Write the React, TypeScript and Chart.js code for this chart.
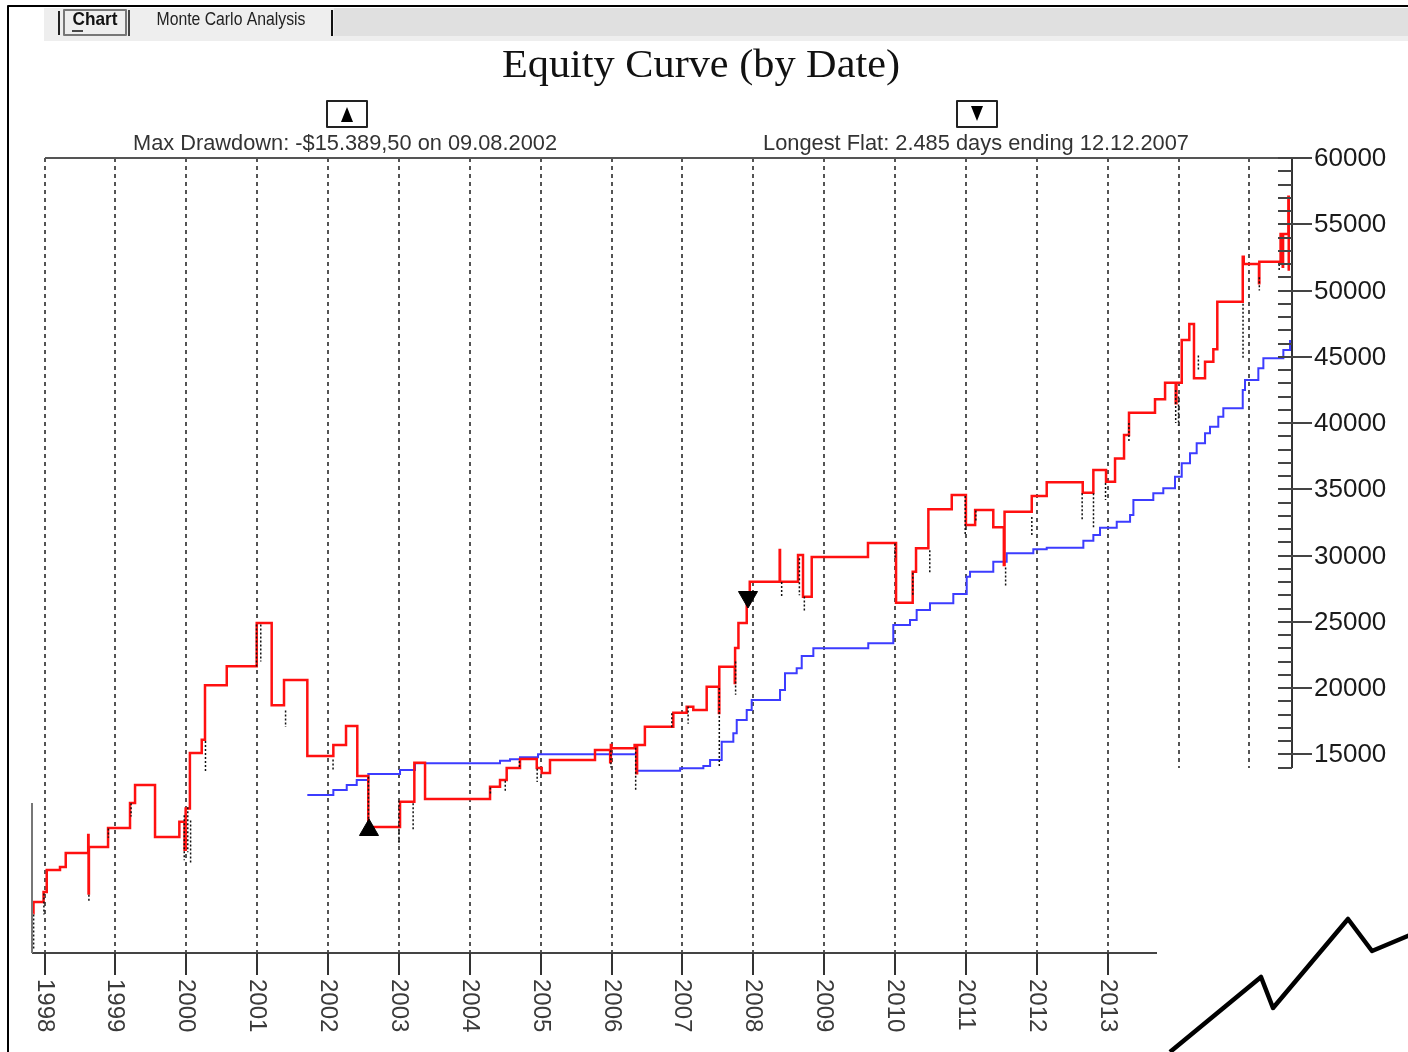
import React, { useEffect, useRef } from 'react';
import { Chart, registerables } from 'chart.js';

Chart.register(...registerables);

// ---------- data ----------
const gridYears = [1998, 1999, 2000, 2001, 2002, 2003, 2004, 2005, 2006, 2007, 2008, 2009, 2010, 2011, 2012, 2013, 2014, 2015];
const yearLabels = ['1998', '1999', '2000', '2001', '2002', '2003', '2004', '2005', '2006', '2007', '2008', '2009', '2010', '2011', '2012', '2013'];
const yTickValues = [60000, 55000, 50000, 45000, 40000, 35000, 30000, 25000, 20000, 15000];

// closed-trade equity (red), each point = new level from that date on
const redDates = [
  1997.84, 1997.843, 1997.985, 1998.03, 1998.217, 1998.298, 1998.615, 1998.62, 1998.625, 1998.895,
  1999.205, 1999.276, 1999.558, 1999.901, 1999.975, 1999.99, 2000.05, 2000.217, 2000.263, 2000.57,
  2000.993, 2001.204, 2001.378, 2001.707, 2002.074, 2002.253, 2002.412, 2002.567, 2003.015, 2003.217,
  2003.368, 2004.285, 2004.426, 2004.52, 2004.708, 2004.944, 2005.014, 2005.131, 2005.766, 2005.98,
  2005.99, 2006.0, 2006.325, 2006.35, 2006.36, 2006.47, 2006.871, 2007.06, 2007.153, 2007.342,
  2007.515, 2007.52, 2007.738, 2007.743, 2007.79, 2007.907, 2007.95, 2008.372, 2008.377, 2008.631,
  2008.701, 2008.824, 2009.618, 2010.014, 2010.249, 2010.296, 2010.47, 2010.8, 2011.0, 2011.13,
  2011.386, 2011.535, 2011.545, 2011.929, 2012.14, 2012.648, 2012.798, 2012.977, 2013.104, 2013.231,
  2013.301, 2013.668, 2013.81, 2013.96, 2013.97, 2014.045, 2014.152, 2014.218, 2014.374, 2014.491,
  2014.547, 2014.906, 2014.92, 2015.135, 2015.14, 2015.44, 2015.47, 2015.475, 2015.55, 2015.555,
];
const redValues = [
  3000, 3850, 4600, 6260, 6500, 7550, 8900, 4500, 8000, 9430,
  11320, 12680, 8750, 9900, 7800, 10900, 15100, 16100, 20200, 21650,
  24900, 18700, 20600, 14870, 15700, 17130, 13360, 9510, 11420, 14360,
  11620, 12550, 13060, 13960, 14640, 13960, 13590, 14570, 15320, 14400,
  15700, 15450, 15700, 13560, 15700, 17080, 18130, 18590, 18340, 20100,
  18110, 21600, 20380, 23020, 24900, 26420, 28020, 30410, 28020, 30040,
  26890, 29890, 30940, 26440, 28780, 30540, 33490, 34570, 32300, 33430,
  32130, 29280, 33300, 34490, 35520, 34740, 36450, 35570, 37330, 39090,
  40780, 41790, 43040, 41500, 43040, 46260, 47470, 43370, 44630, 45560,
  49150, 52550, 52000, 50540, 52170, 54260, 51800, 54260, 57080, 51500,
];

// comparison curve (blue)
const blueDates = [
  2001.707, 2002.074, 2002.263, 2002.404, 2002.567, 2003.015, 2003.226, 2004.426, 2004.567, 2004.708,
  2004.962, 2006.355, 2006.967, 2007.295, 2007.39, 2007.554, 2007.718, 2007.766, 2007.907, 2007.977,
  2008.377, 2008.447, 2008.612, 2008.683, 2008.847, 2009.622, 2009.975, 2010.211, 2010.305, 2010.493,
  2010.822, 2011.011, 2011.058, 2011.386, 2011.575, 2011.951, 2012.14, 2012.657, 2012.798, 2012.892,
  2013.128, 2013.316, 2013.363, 2013.644, 2013.785, 2013.95, 2014.045, 2014.162, 2014.256, 2014.374,
  2014.444, 2014.561, 2014.632, 2014.906, 2014.938, 2015.126, 2015.197, 2015.479, 2015.573,
];
const blueValues = [
  11920, 12300, 12680, 13060, 13510, 13810, 14320, 14510, 14620, 14770,
  15000, 13760, 13940, 14110, 14570, 15950, 16580, 17590, 18340, 19090,
  19850, 21110, 21490, 22420, 23000, 23370, 24750, 25130, 25890, 26390,
  27090, 28400, 28780, 29530, 30170, 30470, 30590, 31120, 31550, 32100,
  32550, 33060, 34190, 34690, 35070, 35950, 36960, 37710, 38470, 39220,
  39720, 40470, 41110, 42490, 43240, 44130, 44880, 45510, 46260,
];

// intra-trade drawdown wicks (black dotted)
const wickDates = [
  1997.845, 1997.99, 1998.625, 1998.9, 1999.22, 1999.97, 2000.02, 2000.06, 2000.27, 2000.99,
  2001.05, 2001.4, 2002.07, 2002.57, 2003.0, 2003.2, 2004.29, 2004.5, 2004.7, 2004.95,
  2005.99, 2006.34, 2006.85, 2007.08, 2007.52, 2007.75, 2008.4, 2008.65, 2008.72, 2010.0,
  2010.25, 2010.49, 2010.99, 2011.14, 2011.56, 2011.93, 2012.64, 2012.8, 2012.97, 2013.3,
  2013.96, 2014.0, 2014.28, 2014.91, 2015.14, 2015.42,
];
const wickHighs = [
  2900, 4500, 4400, 9400, 11300, 10400, 11000, 10000, 16000, 24800,
  24800, 18300, 14600, 13300, 11500, 11300, 12500, 13000, 14500, 13900,
  15300, 15500, 18100, 18600, 20000, 22000, 28000, 29800, 26900, 30900,
  28700, 30400, 34500, 33400, 29100, 32900, 34700, 34700, 35470, 40000,
  42500, 42000, 45100, 49000, 51000, 52000,
];
const wickLows = [
  300, 2900, 3900, 8700, 10300, 7000, 7600, 6800, 13700, 21500,
  22000, 17060, 13800, 9300, 8150, 9300, 11900, 12200, 13900, 12900,
  14000, 12300, 17000, 17300, 14000, 19500, 26800, 27000, 25700, 29700,
  26900, 28700, 31500, 32500, 27600, 31400, 32600, 32000, 34190, 38500,
  40000, 39800, 44000, 44800, 50000, 51400,
];

// drawdown / flat markers
const markerDates = [2002.577, 2007.925];
const markerValues = [9283, 26867];

const titleText = 'Equity Curve (by Date)';
const drawdownText = 'Max Drawdown: -$15.389,50 on 09.08.2002';
const flatText = 'Longest Flat: 2.485 days ending 12.12.2007';
const tabLabels = ['Chart', 'Monte Carlo Analysis'];

// ---------- layout constants ----------
const W = 1408;
const H = 1052;
const X_MIN = 1997.822;
const X_MAX = 2015.601;
const COVER_LEFT = 1157;
const COVER_TOP = 768;

function fitText(ctx: CanvasRenderingContext2D, text: string, cx: number, cy: number, targetW: number) {
  const w = ctx.measureText(text).width;
  const s = targetW / w;
  ctx.save();
  ctx.translate(cx, cy);
  ctx.scale(s, 1);
  ctx.textAlign = 'center';
  ctx.textBaseline = 'middle';
  ctx.fillText(text, 0, 0);
  ctx.restore();
}

const decorPlugin = {
  id: 'decor',
  beforeDatasetsDraw(chart: any) {
    const { ctx, chartArea: a, scales } = chart;
    const x = scales.x;
    ctx.save();
    ctx.strokeStyle = '#1c1c1c';
    ctx.lineWidth = 1.5;
    ctx.setLineDash([4, 4]);
    for (const yr of gridYears) {
      const px = Math.round(x.getPixelForValue(yr));
      ctx.beginPath();
      ctx.moveTo(px, a.top);
      ctx.lineTo(px, a.bottom);
      ctx.stroke();
    }
    ctx.restore();
  },
  afterDatasetsDraw(chart: any) {
    const { ctx, chartArea: a, scales } = chart;
    const x = scales.x;
    const y = scales.y;
    ctx.save();

    // white cover at lower right
    ctx.fillStyle = '#ffffff';
    ctx.fillRect(COVER_LEFT, COVER_TOP, W - COVER_LEFT, H - COVER_TOP);

    // top border
    const x1998 = Math.round(x.getPixelForValue(1998));
    ctx.strokeStyle = '#555';
    ctx.lineWidth = 2;
    ctx.beginPath();
    ctx.moveTo(x1998, a.top);
    ctx.lineTo(a.right, a.top);
    ctx.stroke();

    // right axis
    ctx.strokeStyle = '#333';
    ctx.beginPath();
    ctx.moveTo(a.right, a.top);
    ctx.lineTo(a.right, COVER_TOP);
    ctx.stroke();
    ctx.lineWidth = 2;
    for (let v = 1000; v <= 60000; v += 1000) {
      const py = Math.round(y.getPixelForValue(v));
      if (py > COVER_TOP) continue;
      ctx.strokeStyle = '#444';
      ctx.beginPath();
      ctx.moveTo(a.right - 14, py);
      ctx.lineTo(v % 5000 === 0 ? a.right + 20 : a.right, py);
      ctx.stroke();
    }
    ctx.fillStyle = '#1a1a1a';
    ctx.font = '26px "Liberation Sans", Arial, sans-serif';
    ctx.textAlign = 'left';
    ctx.textBaseline = 'middle';
    for (const v of yTickValues) {
      const py = y.getPixelForValue(v);
      ctx.fillText(String(v), a.right + 22, py + 1);
    }

    // bottom axis
    ctx.strokeStyle = '#444';
    ctx.lineWidth = 2;
    ctx.beginPath();
    ctx.moveTo(a.left, a.bottom);
    ctx.lineTo(COVER_LEFT, a.bottom);
    ctx.stroke();
    // left partial axis
    ctx.strokeStyle = '#777';
    ctx.beginPath();
    ctx.moveTo(a.left, 803);
    ctx.lineTo(a.left, a.bottom);
    ctx.stroke();
    // year ticks and labels
    ctx.strokeStyle = '#333';
    ctx.fillStyle = '#3a3a3a';
    ctx.font = '24px "Liberation Sans", Arial, sans-serif';
    yearLabels.forEach((lab) => {
      const px = Math.round(x.getPixelForValue(Number(lab)));
      ctx.beginPath();
      ctx.moveTo(px, a.bottom);
      ctx.lineTo(px, a.bottom + 22);
      ctx.stroke();
      ctx.save();
      ctx.translate(px, a.bottom + 26);
      ctx.rotate(Math.PI / 2);
      ctx.textAlign = 'left';
      ctx.textBaseline = 'middle';
      ctx.fillText(lab, 0, 0);
      ctx.restore();
    });

    // logo zigzag
    ctx.strokeStyle = '#000';
    ctx.lineWidth = 4.5;
    ctx.lineJoin = 'round';
    ctx.beginPath();
    ctx.moveTo(1170, 1052);
    ctx.lineTo(1261, 977);
    ctx.lineTo(1273, 1008);
    ctx.lineTo(1348, 919);
    ctx.lineTo(1372, 951);
    ctx.lineTo(1410, 935);
    ctx.stroke();

    // title
    ctx.fillStyle = '#111';
    ctx.font = '40px "Liberation Serif", "Times New Roman", serif';
    fitText(ctx, titleText, 701, 66, 398);

    // subtitles
    ctx.fillStyle = '#333';
    ctx.font = '22px "Liberation Sans", Arial, sans-serif';
    fitText(ctx, drawdownText, 345, 144, 424);
    fitText(ctx, flatText, 976, 144, 426);

    // marker boxes
    const drawBox = (cx: number, up: boolean) => {
      ctx.fillStyle = '#fff';
      ctx.fillRect(cx - 20, 101, 40, 26);
      ctx.strokeStyle = '#222';
      ctx.lineWidth = 2;
      ctx.strokeRect(cx - 20, 101, 40, 26);
      ctx.fillStyle = '#000';
      ctx.beginPath();
      if (up) {
        ctx.moveTo(cx, 107);
        ctx.lineTo(cx + 6, 122);
        ctx.lineTo(cx - 6, 122);
      } else {
        ctx.moveTo(cx - 6, 106);
        ctx.lineTo(cx + 6, 106);
        ctx.lineTo(cx, 121);
      }
      ctx.closePath();
      ctx.fill();
    };
    drawBox(347, true);
    drawBox(977, false);

    // tab bar
    ctx.fillStyle = '#eeeeee';
    ctx.fillRect(44, 8, W - 44, 33);
    ctx.fillStyle = '#e0e0e0';
    ctx.fillRect(334, 8, W - 334, 28);
    // chart tab box
    ctx.strokeStyle = '#222';
    ctx.lineWidth = 2;
    ctx.beginPath();
    ctx.moveTo(59, 11); ctx.lineTo(59, 35);
    ctx.stroke();
    ctx.strokeStyle = '#777';
    ctx.lineWidth = 2;
    ctx.strokeRect(64, 10, 62, 25);
    ctx.strokeStyle = '#444';
    ctx.beginPath();
    ctx.moveTo(129, 10); ctx.lineTo(129, 36);
    ctx.stroke();
    ctx.strokeStyle = '#111';
    ctx.beginPath();
    ctx.moveTo(332, 10); ctx.lineTo(332, 36);
    ctx.stroke();
    ctx.fillStyle = '#111';
    ctx.font = 'bold 19px "Liberation Sans", Arial, sans-serif';
    fitText(ctx, tabLabels[0], 95, 20, 45);
    ctx.lineWidth = 1.5;
    ctx.beginPath();
    ctx.moveTo(72, 31); ctx.lineTo(83, 31);
    ctx.stroke();
    ctx.fillStyle = '#222';
    ctx.font = '18px "Liberation Sans", Arial, sans-serif';
    fitText(ctx, tabLabels[1], 231, 20, 149);

    // outer frame
    ctx.strokeStyle = '#000';
    ctx.lineWidth = 2;
    ctx.beginPath();
    ctx.moveTo(8, H);
    ctx.lineTo(8, 6);
    ctx.lineTo(W, 6);
    ctx.stroke();

    ctx.restore();
  },
};

export default function App() {
  const canvasRef = useRef<HTMLCanvasElement | null>(null);

  useEffect(() => {
    const canvas = canvasRef.current;
    if (!canvas) return;
    const redData = redDates.map((d, i) => ({ x: d, y: redValues[i] }));
    const blueData = blueDates.map((d, i) => ({ x: d, y: blueValues[i] }));
    const wickData: { x: number; y: number | null }[] = [];
    wickDates.forEach((d, i) => {
      wickData.push({ x: d, y: wickHighs[i] });
      wickData.push({ x: d, y: wickLows[i] });
      wickData.push({ x: d, y: null });
    });
    const markerData = markerDates.map((d, i) => ({ x: d, y: markerValues[i] }));

    const chart = new Chart(canvas, {
      type: 'line',
      data: {
        datasets: [
          {
            label: 'Markers',
            data: markerData,
            showLine: false,
            pointStyle: 'triangle',
            pointRadius: 11,
            pointRotation: [0, 180],
            pointBackgroundColor: '#000',
            pointBorderColor: '#000',
            borderColor: '#000',
            backgroundColor: '#000',
          } as any,
          {
            label: 'Wicks',
            data: wickData,
            borderColor: '#111',
            borderWidth: 1.5,
            borderDash: [2, 2],
            pointRadius: 0,
            spanGaps: false,
            fill: false,
          } as any,
          {
            label: 'Equity',
            data: redData,
            stepped: 'before',
            borderColor: '#ff1010',
            borderWidth: 2.5,
            pointRadius: 0,
            fill: false,
          } as any,
          {
            label: 'Comparison',
            data: blueData,
            stepped: 'before',
            borderColor: '#3c3cff',
            borderWidth: 2,
            pointRadius: 0,
            fill: false,
          } as any,
        ],
      },
      options: {
        responsive: false,
        maintainAspectRatio: false,
        animation: false,
        devicePixelRatio: 1,
        events: [],
        layout: { padding: { left: 32, top: 158, right: W - 1292, bottom: H - 953 } },
        plugins: {
          legend: { display: false },
          title: { display: false },
          tooltip: { enabled: false },
        },
        scales: {
          x: { type: 'linear', min: X_MIN, max: X_MAX, display: false },
          y: { type: 'linear', min: 0, max: 60000, display: false },
        },
      },
      plugins: [decorPlugin],
    });
    return () => chart.destroy();
  }, []);

  return (
    <div style={{ position: 'absolute', left: 0, top: 0, width: W, height: H, background: '#fff' }}>
      <canvas ref={canvasRef} width={W} height={H} style={{ display: 'block', width: W, height: H }} />
    </div>
  );
}
